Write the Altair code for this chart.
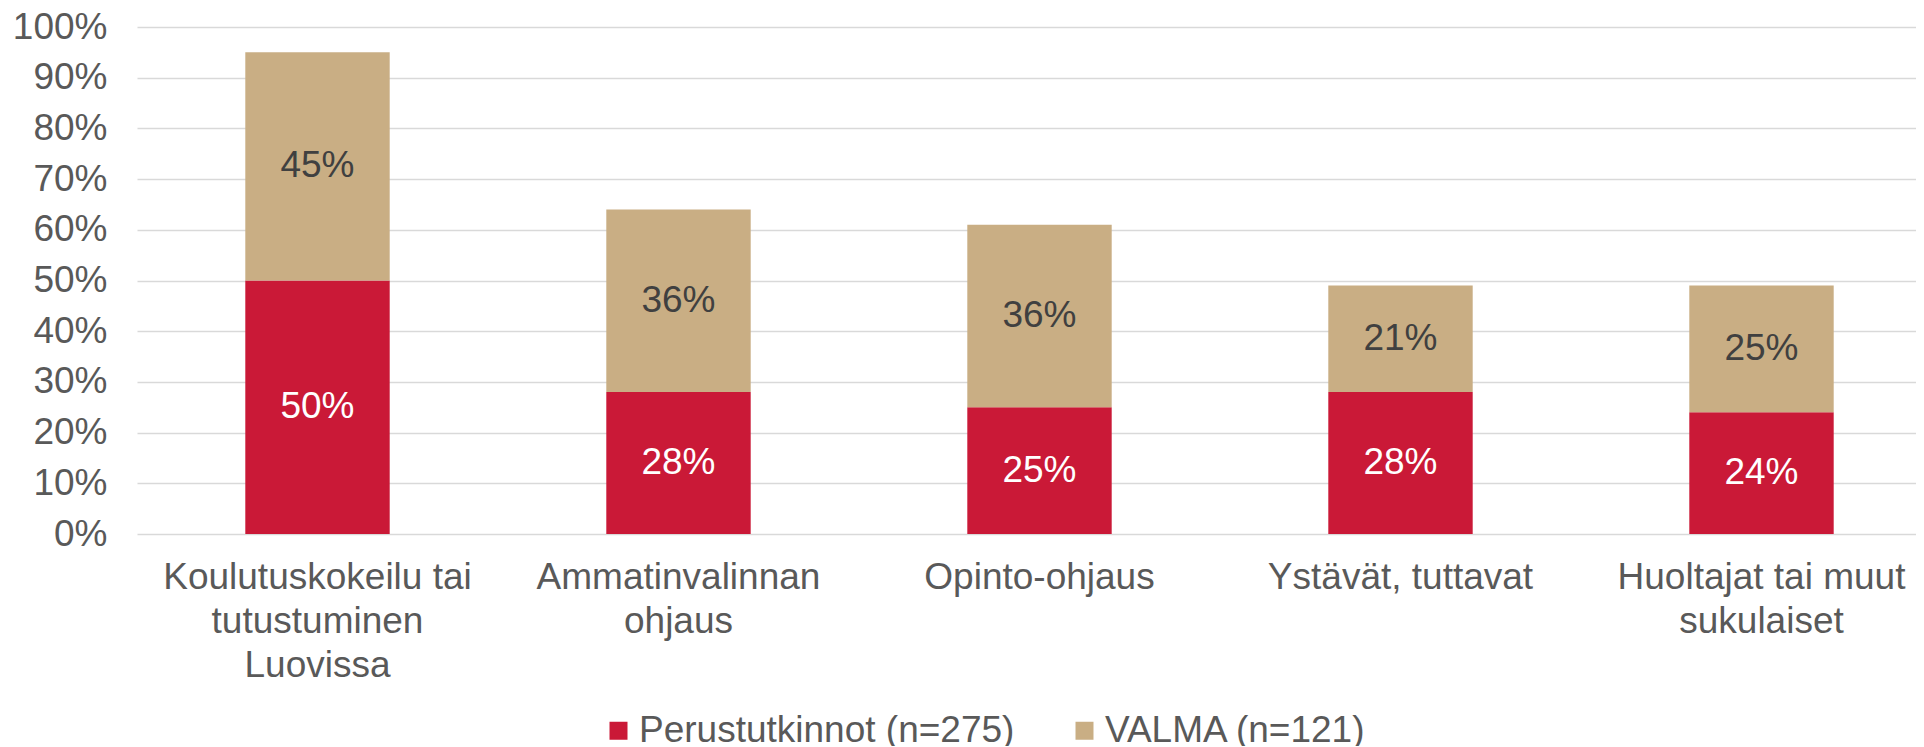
import altair as alt
import pandas as pd

FONT = "Liberation Sans"

categories = [
    "Koulutuskokeilu tai|tutustuminen|Luovissa",
    "Ammatinvalinnan|ohjaus",
    "Opinto-ohjaus",
    "Ystävät, tuttavat",
    "Huoltajat tai muut|sukulaiset",
]
series = ["Perustutkinnot (n=275)", "VALMA (n=121)"]
perus = [50, 28, 25, 28, 24]
valma = [45, 36, 36, 21, 25]
y_ticks = [0, 10, 20, 30, 40, 50, 60, 70, 80, 90, 100]
colors = ["#CA1937", "#C9AE84"]

rows = []
for i, c in enumerate(categories):
    for j, vals in enumerate([perus, valma]):
        rows.append({"category": c, "series": series[j], "ord": j, "pct": vals[i]})
df = pd.DataFrame(rows)

base = (
    alt.Chart(df)
    .transform_calculate(v="datum.pct / 100")
    .transform_stack(
        stack="v",
        groupby=["category"],
        as_=["y0", "y1"],
        sort=[alt.SortField("ord", order="ascending")],
    )
    .transform_calculate(mid="(datum.y0 + datum.y1) / 2", lab="datum.pct + '%'")
)

x = alt.X(
    "category:N",
    sort=categories,
    scale=alt.Scale(range=[0, 1805], paddingInner=0.6, paddingOuter=0.3),
    axis=alt.Axis(
        title=None,
        labelExpr="split(datum.label, '|')",
        labelAngle=0,
        labelFont=FONT,
        labelFontSize=37,
        labelLineHeight=44,
        labelColor="#595959",
        labelPadding=25,
        labelLimit=600,
        domain=False,
        ticks=False,
        grid=False,
    ),
)

y_axis = alt.Axis(
    title=None,
    format=".0%",
    values=[t / 100 for t in y_ticks],
    labelFont=FONT,
    labelFontSize=37,
    labelColor="#595959",
    labelPadding=30,
    domain=False,
    ticks=False,
    gridColor="#D9D9D9",
    gridWidth=1.5,
)

bars = base.mark_bar().encode(
    x=x,
    y=alt.Y("y0:Q", scale=alt.Scale(domain=[0, 1], nice=False), axis=y_axis),
    y2="y1:Q",
    color=alt.Color(
        "series:N",
        scale=alt.Scale(domain=series, range=colors),
        legend=alt.Legend(
            title=None,
            orient="none",
            legendX=463,
            legendY=685,
            direction="horizontal",
            symbolType="square",
            symbolSize=324,
            symbolStrokeWidth=0,
            labelFont=FONT,
            labelFontSize=37,
            labelColor="#595959",
            labelOffset=2,
            columnPadding=51,
            labelLimit=600,
        ),
    ),
)

labels = base.mark_text(font=FONT, fontSize=37, baseline="middle").encode(
    x=x,
    y=alt.Y("mid:Q"),
    text="lab:N",
    color=alt.condition("datum.ord == 0", alt.value("#FFFFFF"), alt.value("#404040")),
)

chart = (
    alt.layer(bars, labels)
    .properties(
        width=1779,
        height=507,
        autosize=alt.AutoSizeParams(type="none"),
        padding={"left": 129, "top": 19, "right": 0, "bottom": 212},
        background="white",
    )
    .configure_view(stroke=None)
)

chart.save("out.html", embed_options={"renderer": "svg", "actions": False})
